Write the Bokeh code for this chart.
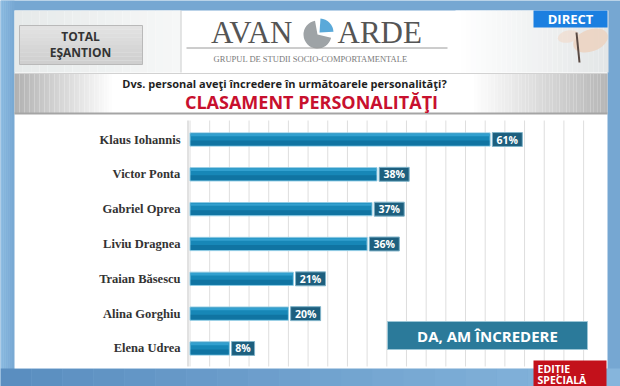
from bokeh.plotting import figure
from bokeh.models import Range1d
from bokeh.core.properties import value
from bokeh.embed import file_html
from bokeh.resources import INLINE

# ---------------- data ----------------
names = ["Klaus Iohannis", "Victor Ponta", "Gabriel Oprea", "Liviu Dragnea",
         "Traian Băsescu", "Alina Gorghiu", "Elena Udrea"]
values = [61, 38, 37, 36, 21, 20, 8]
value_labels = [f"{v}%" for v in values]
grid_ticks = list(range(0, 84, 4))
question = "Dvs. personal aveţi încredere în următoarele personalităţi?"
title = "CLASAMENT PERSONALITĂŢI"
legend_text = "DA, AM ÎNCREDERE"
sample_lines = ["TOTAL", "EŞANTION"]
brand_left, brand_right = "AVAN", "ARDE"
brand_sub = "GRUPUL DE STUDII SOCIO-COMPORTAMENTALE"
badge_top = "DIRECT"
badge_bottom = ["EDIȚIE", "SPECIALĂ"]

# ---------------- layout ----------------
W, H = 620, 386
OFF = 0
X0, PXPCT = 189.5, 4.92       # page x of 0 %, pixels per %
Y0, PXROW = 139.0, 34.83      # page y of first row, pixels per row

x_start = (OFF - X0) / PXPCT
x_end = (OFF + W - X0) / PXPCT
y_top = (OFF - Y0) / PXROW
y_bot = (OFF + H - Y0) / PXROW

p = figure(width=W, height=H, x_range=Range1d(x_start, x_end),
           y_range=Range1d(y_bot, y_top), min_border=0,
           toolbar_location=None, output_backend="svg")
p.axis.visible = False
p.grid.visible = False
p.outline_line_color = None
p.background_fill_color = "#76a7d2"
p.border_fill_color = "#76a7d2"
p.extra_x_ranges = {"px": Range1d(OFF, OFF + W)}
p.extra_y_ranges = {"py": Range1d(OFF + H, OFF)}

PR = dict(x_range_name="px", y_range_name="py")


def mix(c1, c2, t):
    a = [int(c1[i:i + 2], 16) for i in (1, 3, 5)]
    b = [int(c2[i:i + 2], 16) for i in (1, 3, 5)]
    return "#" + "".join(f"{round(a[k] + (b[k] - a[k]) * t):02x}" for k in range(3))


def rect(l, t, r, b, color, line=None, lw=1, alpha=1.0):
    p.quad(left=[l], right=[r], top=[t], bottom=[b], fill_color=color,
           fill_alpha=alpha, line_color=line, line_width=lw, **PR)


def txt(x, y, s, size, color, font="Open Sans", style="bold", align="left",
        baseline="middle"):
    p.text(x=[x], y=[y], text=[s], text_font=value(font), text_font_size=size,
           text_font_style=style, text_color=color, text_align=align,
           text_baseline=baseline, **PR)


# frame gradient (left side lighter)
steps = 7
for k in range(steps):
    rect(k * 2, 0, (k + 1) * 2, 386, mix("#8fbde2", "#76a7d2", k / steps))
# bottom strip
for k in range(20):
    rect(k * 31, 368, (k + 1) * 31, 386, mix("#5a8ec0", "#86b5dc", k / 19))

# white panel
rect(14, 10, 607, 368, "#ffffff")

# header left area
for k in range(20):
    rect(14 + k * 8.3, 10, 14 + (k + 1) * 8.3, 72, mix("#e6eaea", "#f6f7f7", k / 19))
rect(180, 10, 181, 72, "#c9cccc")
# photo area on the right
for k in range(30):
    rect(455 + k * 5.1, 10, 455 + (k + 1) * 5.1, 72, mix("#ffffff", "#e3e6e7", k / 29))
p.ellipse(x=[590], y=[40], width=[36], height=[22], angle=[0.35],
          fill_color="#ecd2c0", line_color=None, fill_alpha=0.85, **PR)
p.ellipse(x=[568], y=[36], width=[22], height=[12], angle=[0.2],
          fill_color="#f1dccd", line_color=None, fill_alpha=0.7, **PR)
p.segment(x0=[576], y0=[32], x1=[579], y1=[62], line_color="#5a4a44",
          line_width=2, **PR)

# TOTAL EŞANTION box
for k in range(10):
    rect(19, 25 + k * 3.9, 142, 25 + (k + 1) * 3.9, mix("#e2e2e2", "#cfcfcf", k / 9))
rect(19, 25, 142, 64, None, line="#b9b9b9")
txt(80, 36, sample_lines[0], "12px", "#333333", align="center")
txt(80, 52, sample_lines[1], "12px", "#333333", align="center")

# brand
txt(292, 32, brand_left, "31px", "#555555", font="Liberation Serif",
    style="normal", align="right")
p.wedge(x=[317], y=[34], radius=14, start_angle=1.75, end_angle=6.05,
        direction="anticlock", fill_color="#9ea3a6", line_color=None, **PR)
p.wedge(x=[319], y=[32], radius=14, start_angle=0.05, end_angle=1.5,
        direction="anticlock", fill_color="#5aa9d9", line_color=None, **PR)
txt(337, 32, brand_right, "31px", "#555555", font="Liberation Serif",
    style="normal", align="left")
p.segment(x0=[186], y0=[47.5], x1=[447], y1=[47.5], line_color="#9a9a9a",
          line_width=1, **PR)
txt(310, 58, brand_sub, "8.5px", "#7a7a7a", font="Liberation Serif",
    style="normal", align="center")

# DIRECT badge
rect(533, 10, 607, 27, "#1b7fe0")
txt(570, 18.5, badge_top, "13px", "#ffffff", align="center")

# grey question band
for k in range(40):
    t = k / 39
    x_l = 14 + k * 2.5
    rect(x_l, 73, x_l + 2.5, 113, mix("#b2b2b2", "#ffffff", t))
rect(114, 73, 470, 113, "#ffffff")
for k in range(40):
    t = k / 39
    x_l = 470 + k * 3.425
    rect(x_l, 73, x_l + 3.425, 113, mix("#ffffff", "#b7b7b7", t))
p.segment(x0=[14], y0=[73], x1=[607], y1=[73], line_color="#d2d2d2", **PR)
p.segment(x0=[14], y0=[113], x1=[607], y1=[113], line_color="#a5a5a5",
          line_width=2, **PR)
txt(284, 83, question, "11px", "#1f1f1f", align="center")
txt(311, 101, title, "18px", "#c8102e", align="center")

# ---------------- chart (data space) ----------------
g_top, g_bot = (120 - Y0) / PXROW, (366 - Y0) / PXROW
p.segment(x0=grid_ticks, y0=[g_top] * len(grid_ticks), x1=grid_ticks,
          y1=[g_bot] * len(grid_ticks), line_color="#dedede", line_width=1)
ax_x = (187.5 - X0) / PXPCT
p.segment(x0=[ax_x], y0=[g_top], x1=[ax_x], y1=[g_bot], line_color="#c4c4c4",
          line_width=1)

rows = list(range(len(names)))
p.hbar(y=rows, left=0, right=values, height=0.38, fill_color="#1787b7",
       line_color="#8fcbe4", line_width=1)
p.hbar(y=[r + 0.1 for r in rows], left=0.15, right=[v - 0.15 for v in values],
       height=0.14, fill_color="#0f6f9c", line_color=None, fill_alpha=0.8)
p.hbar(y=[r - 0.13 for r in rows], left=0.15, right=[v - 0.15 for v in values],
       height=0.07, fill_color="#3aa6d4", line_color=None, fill_alpha=0.8)

box_l = [v + 0.45 for v in values]
box_r = [v + 0.45 + (16 + 7 * (len(s) - 1)) / PXPCT for v, s in zip(values, value_labels)]
p.quad(left=box_l, right=box_r, top=[r - 0.2 for r in rows],
       bottom=[r + 0.2 for r in rows], fill_color="#1d5f7e",
       line_color="#7fb3c9", line_width=1)
p.text(x=[(a + b) / 2 for a, b in zip(box_l, box_r)], y=rows, text=value_labels,
       text_font=value("Open Sans"), text_font_size="10.5px",
       text_font_style="bold", text_color="#ffffff", text_align="center",
       text_baseline="middle")

p.text(x=[(180 - X0) / PXPCT] * len(names), y=rows, text=names,
       text_font=value("Liberation Serif"), text_font_size="12.5px",
       text_font_style="bold", text_color="#333333", text_align="right",
       text_baseline="middle")

# legend box
rect(387, 321, 587, 349, "#2b7a9a", line="#9cc6d6", lw=1)
txt(487, 335.5, legend_text, "15px", "#ffffff", align="center")

# EDIȚIE SPECIALĂ badge
rect(533, 360, 606, 386, "#c3111b")
txt(537, 368, badge_bottom[0], "10.5px", "#ffffff")
txt(537, 379.5, badge_bottom[1], "10.5px", "#ffffff")

open("out.html", "w").write(file_html(p, INLINE))
